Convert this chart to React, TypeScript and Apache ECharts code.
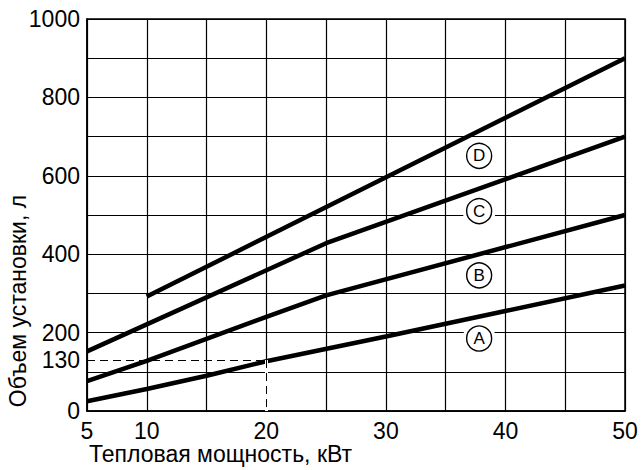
import React, { useEffect, useRef } from "react";
import * as echarts from "echarts";

// X axis (kW) and Y axis (litres) settings
const xMin = 5;
const xMax = 50;
const xStep = 5;
const xLabelShown = [5, 10, 20, 30, 40, 50];
const yMin = 0;
const yMax = 1000;
const yStep = 100;
const yLabelShown = [0, 200, 400, 600, 800, 1000];

// Curves
const lineAx = [5, 10, 15, 20, 30, 40, 50];
const lineAy = [25, 56, 90, 127, 190, 255, 320];
const lineBx = [5, 10, 20, 25, 50];
const lineBy = [76, 128, 240, 295, 500];
const lineCx = [5, 25, 50];
const lineCy = [152, 428, 700];
const lineDx = [10, 50];
const lineDy = [292, 900];

// Circled curve labels
const markerLetters = ["A", "B", "C", "D"];
const markerKw = [37.8, 37.8, 37.8, 37.8];
const markerVals = [185, 346, 510, 651];

// Reference (dashed) example
const refKw = 20;
const refVal = 130;

const xTitle = "Тепловая мощность, кВт";
const yTitle = "Объем установки, л";

const FONT = "'Liberation Sans', Arial, Helvetica, sans-serif";

function zip(xs: number[], ys: number[]) {
  return xs.map((x, i) => [x, ys[i]]);
}

export default function App() {
  const ref = useRef<HTMLDivElement>(null);

  useEffect(() => {
    if (!ref.current) return;
    const chart = echarts.init(ref.current, undefined, { renderer: "svg" });

    const curveStyle = { color: "#000", width: 4.5 };
    const curve = (name: string, xs: number[], ys: number[], extra: any = {}) => ({
      name,
      type: "line",
      data: zip(xs, ys),
      symbol: "none",
      silent: true,
      lineStyle: curveStyle,
      z: 3,
      ...extra,
    });

    const markerData = markerLetters.map((l, i) => ({
      value: [markerKw[i], markerVals[i]],
      name: l,
    }));

    chart.setOption({
      animation: false,
      backgroundColor: "#fff",
      grid: {
        left: 87,
        right: 16,
        top: 19,
        bottom: 59,
        show: true,
        borderColor: "#000",
        borderWidth: 1.5,
        backgroundColor: "transparent",
      },
      xAxis: {
        type: "value",
        min: xMin,
        max: xMax,
        interval: xStep,
        axisLine: { show: true, lineStyle: { color: "#000", width: 1.5 } },
        axisTick: { show: false },
        splitLine: { show: true, lineStyle: { color: "#000", width: 1.2 } },
        axisLabel: {
          color: "#000",
          fontSize: 23,
          fontFamily: FONT,
          margin: 8,
          formatter: (v: number) => (xLabelShown.includes(v) ? String(v) : ""),
        },
      },
      yAxis: {
        type: "value",
        min: yMin,
        max: yMax,
        interval: yStep,
        axisLine: { show: true, lineStyle: { color: "#000", width: 1.5 } },
        axisTick: { show: false },
        splitLine: { show: true, lineStyle: { color: "#000", width: 1.2 } },
        axisLabel: {
          color: "#000",
          fontSize: 23,
          fontFamily: FONT,
          margin: 7,
          formatter: (v: number) => (yLabelShown.includes(v) ? String(v) : ""),
        },
      },
      graphic: [
        {
          type: "text",
          x: 89,
          y: 454,
          style: {
            text: xTitle,
            fill: "#000",
            font: `23px ${FONT}`,
            align: "left",
            verticalAlign: "middle",
          },
        },
        {
          type: "text",
          x: 18,
          y: 301,
          rotation: Math.PI / 2,
          style: {
            text: yTitle,
            fill: "#000",
            font: `23px ${FONT}`,
            align: "center",
            verticalAlign: "middle",
          },
        },
      ],
      series: [
        // white mask hiding the solid gridline below the reference point
        {
          type: "line",
          data: [],
          silent: true,
          z: 1,
          markLine: {
            silent: true,
            symbol: ["none", "none"],
            lineStyle: { color: "#fff", width: 3, type: "solid" },
            label: { show: false },
            data: [[{ coord: [refKw, yMin] }, { coord: [refKw, refVal] }]],
          },
        },
        curve("A", lineAx, lineAy, {
          markLine: {
            silent: true,
            symbol: ["none", "none"],
            lineStyle: { color: "#000", width: 1, type: [8, 5] },
            data: [
              [
                {
                  coord: [xMin, refVal],
                  label: {
                    show: true,
                    position: "start",
                    formatter: String(refVal),
                    color: "#000",
                    fontSize: 23,
                    fontFamily: FONT,
                    distance: 7,
                  },
                },
                { coord: [refKw, refVal] },
              ],
              [
                { coord: [refKw, refVal], label: { show: false } },
                { coord: [refKw, yMin] },
              ],
            ],
          },
        }),
        curve("B", lineBx, lineBy),
        curve("C", lineCx, lineCy),
        curve("D", lineDx, lineDy),
        {
          type: "scatter",
          silent: true,
          data: markerData,
          symbol: "circle",
          symbolSize: 33,
          itemStyle: { color: "#fff", opacity: 1 },
          z: 4,
        },
        {
          type: "scatter",
          silent: true,
          data: markerData,
          symbol: "circle",
          symbolSize: 25,
          itemStyle: { color: "#fff", borderColor: "#000", borderWidth: 1.4, opacity: 1 },
          label: {
            show: true,
            position: "inside",
            formatter: (p: any) => p.name,
            color: "#000",
            fontSize: 17,
            fontFamily: FONT,
          },
          z: 5,
        },
      ],
    });

    return () => chart.dispose();
  }, []);

  return <div ref={ref} style={{ width: 641, height: 470, position: "absolute", left: 0, top: 0 }} />;
}
